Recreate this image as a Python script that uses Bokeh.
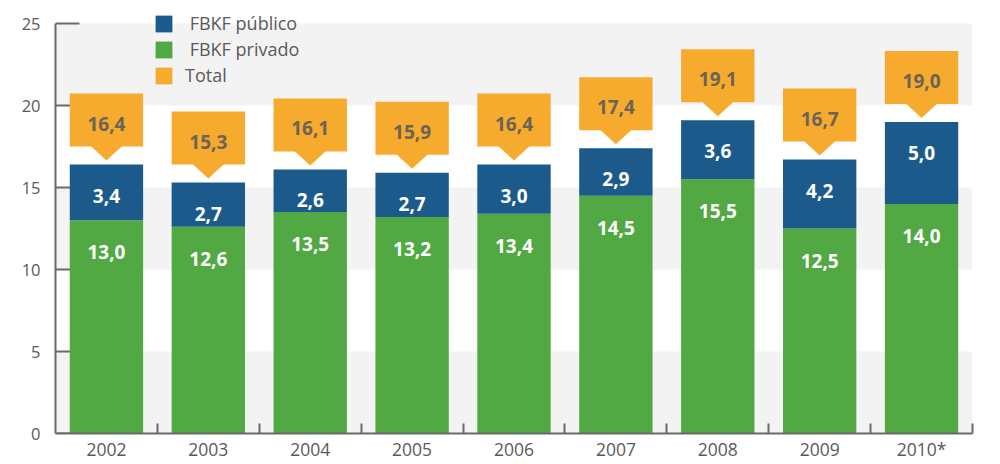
from bokeh.plotting import figure
from bokeh.models import (ColumnDataSource, FixedTicker, Range1d, Legend, LegendItem,
                          CustomJSTickFormatter)
from bokeh.core.properties import value
from bokeh.embed import file_html
from bokeh.resources import INLINE

# ---- data ----
years = ["2002", "2003", "2004", "2005", "2006", "2007", "2008", "2009", "2010*"]
privado = [13.0, 12.6, 13.5, 13.2, 13.4, 14.5, 15.5, 12.5, 14.0]
publico = [3.4, 2.7, 2.6, 2.7, 3.0, 2.9, 3.6, 4.2, 5.0]
total = [16.4, 15.3, 16.1, 15.9, 16.4, 17.4, 19.1, 16.7, 19.0]
y_ticks = [0, 5, 10, 15, 20, 25]
series_names = ["FBKF público", "FBKF privado", "Total"]

# ---- style ----
BLUE = "#1b5a8b"
GREEN = "#52a843"
ORANGE = "#f6ab2f"
CALLOUT_TEXT = "#6b6355"
AXIS_COLOR = "#6a6a6a"
LABEL_COLOR = "#5a5a5a"
BAND = "#f3f3f3"
FONT = "Open Sans"
PX = 16.4          # pixels per y unit
XPX = 917 / 9      # pixels per x unit
BAR_W = 0.72


def fmt(v):
    return f"{v:.1f}".replace(".", ",")


n = len(years)
xc = [i + 0.5 for i in range(n)]
stack_top = [a + b for a, b in zip(privado, publico)]

src = ColumnDataSource(dict(
    x=xc, privado=privado, publico=publico, total=total,
    priv_lab=[fmt(v) for v in privado],
    pub_lab=[fmt(v) for v in publico],
    tot_lab=[fmt(v) for v in total],
    priv_y=[v - 32 / PX for v in privado],
    pub_y=[v - 31 / PX for v in stack_top],
    box_bottom=[v + 18 / PX for v in total],
    box_top=[v + 71 / PX for v in total],
    box_left=[v - BAR_W / 2 for v in xc],
    box_right=[v + BAR_W / 2 for v in xc],
    tot_y=[v + 41 / PX for v in total],
))

tri_xs = [[v - 0.16, v + 0.16, v] for v in xc]
tri_ys = [[t + 19 / PX, t + 19 / PX, t + 4 / PX] for t in total]

p = figure(width=1000, height=464, x_range=Range1d(0, n), y_range=Range1d(0, 433 / PX),
           output_backend="svg", toolbar_location=None,
           min_border_left=55, min_border_right=28, min_border_top=0, min_border_bottom=31)
p.outline_line_color = None
p.xgrid.visible = False
p.ygrid.visible = False
p.background_fill_color = "white"

# alternating bands
p.quad(left=0, right=n, bottom=y_ticks[0:-1:2], top=y_ticks[1::2],
       fill_color=BAND, line_color=None, level="image")
# inward y ticks (drawn beneath the bars)
p.segment(x0=0, x1=24 / XPX, y0=y_ticks, y1=y_ticks, line_color=AXIS_COLOR,
          line_width=2, level="image")

# stacked bars
r_priv, r_pub = p.vbar_stack(["privado", "publico"], x="x", width=BAR_W, source=src,
                             fill_color=[GREEN, BLUE], line_color=None)

# callouts
r_box = p.quad(left="box_left", right="box_right", bottom="box_bottom", top="box_top",
               source=src, fill_color=ORANGE, line_color=None)
p.patches(xs=tri_xs, ys=tri_ys, fill_color=ORANGE, line_color=None)

common = dict(text_align="center", text_baseline="middle", text_font=value(FONT),
              text_font_style="bold", text_font_size="19px")
p.text(x="x", y="priv_y", text="priv_lab", source=src, text_color="white", **common)
p.text(x="x", y="pub_y", text="pub_lab", source=src, text_color="white", **common)
p.text(x="x", y="tot_y", text="tot_lab", source=src, text_color=CALLOUT_TEXT, **common)

# y axis
ya = p.yaxis[0]
ya.ticker = FixedTicker(ticks=y_ticks)
ya.bounds = (0, 25)
ya.major_tick_in = 0
ya.major_tick_out = 0
ya.minor_tick_in = 0
ya.minor_tick_out = 0
ya.axis_line_width = 2
ya.axis_line_color = AXIS_COLOR
ya.major_label_standoff = 15
ya.major_label_text_font = FONT
ya.major_label_text_font_size = "16.5px"
ya.major_label_text_color = LABEL_COLOR

# x axis
xa = p.xaxis[0]
xa.ticker = FixedTicker(ticks=xc, minor_ticks=list(range(1, n + 1)))
xa.formatter = CustomJSTickFormatter(args=dict(labels=years),
                                     code="const i = Math.floor(tick); return (i >= 0 && i < labels.length) ? labels[i] : '';")
xa.major_tick_in = 0
xa.major_tick_out = 0
xa.minor_tick_in = 10
xa.minor_tick_out = 0
xa.minor_tick_line_width = 2
xa.minor_tick_line_color = AXIS_COLOR
xa.axis_line_width = 2
xa.axis_line_color = AXIS_COLOR
xa.major_label_standoff = 3
xa.major_label_text_font = FONT
xa.major_label_text_font_size = "17.5px"
xa.major_label_text_color = LABEL_COLOR

# legend
legend = Legend(items=[
    LegendItem(label=" " + series_names[0], renderers=[r_pub]),
    LegendItem(label=" " + series_names[1], renderers=[r_priv]),
    LegendItem(label=series_names[2], renderers=[r_box]),
], location=(98, 345), orientation="vertical", glyph_width=21, glyph_height=21,
    label_height=26, spacing=0, padding=0, margin=0, label_standoff=11,
    border_line_alpha=0, background_fill_alpha=0,
    label_text_font=FONT, label_text_font_size="18px", label_text_color=LABEL_COLOR)
p.add_layout(legend)

open("out.html", "w").write(file_html(p, INLINE))
